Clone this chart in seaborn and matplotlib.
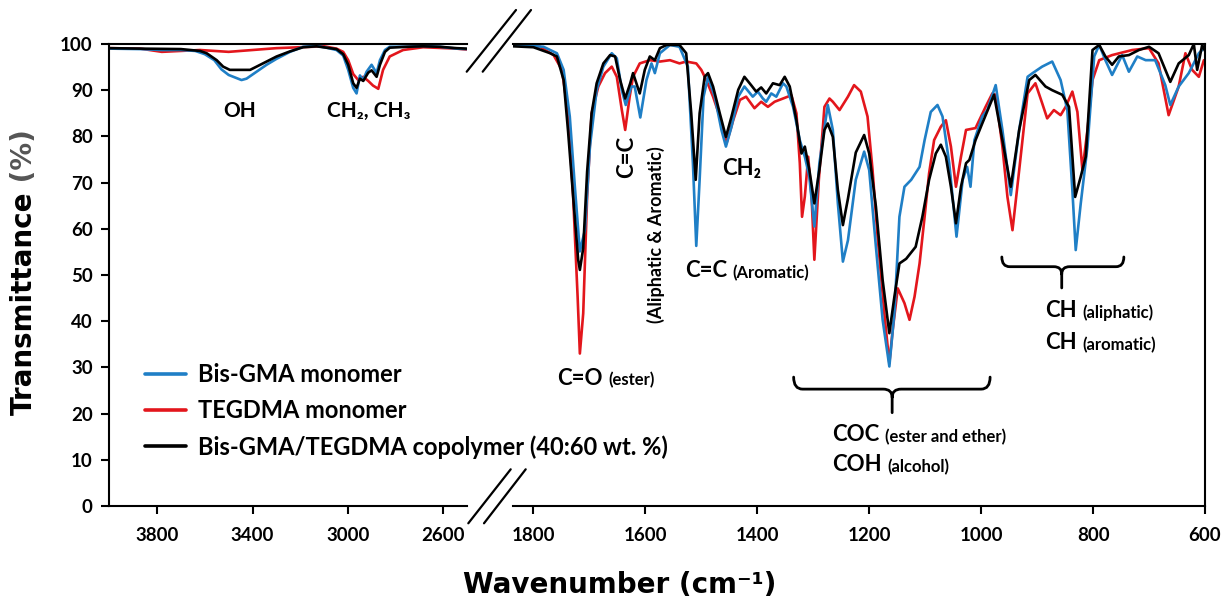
import numpy as np
import pandas as pd
import matplotlib
matplotlib.use("Agg")
import matplotlib.pyplot as plt
import seaborn as sns
from matplotlib.lines import Line2D
from matplotlib.path import Path
from matplotlib.patches import PathPatch
from matplotlib.text import Annotation

# ---------------- data ----------------
series_names = ["Bis-GMA monomer", "TEGDMA monomer",
                "Bis-GMA/TEGDMA copolymer (40:60 wt. %)"]
series_colors = ["#1f7fc6", "#e3161c", "#000000"]

left_ticks = [3800, 3400, 3000, 2600]
right_ticks = [1800, 1600, 1400, 1200, 1000, 800, 600]
y_ticks = [0, 10, 20, 30, 40, 50, 60, 70, 80, 90, 100]

# high-wavenumber panel (4000-2500 cm-1)
bis_hi_wn = [4000, 3870, 3780, 3700, 3640, 3600, 3560, 3530, 3500, 3446, 3425, 3383,
             3341, 3299, 3243, 3188, 3132, 3090, 3048, 3020, 2999, 2978, 2964, 2950,
             2936, 2922, 2901, 2880, 2866, 2845, 2825, 2755, 2685, 2615, 2545, 2503]
bis_hi_t = [99.0, 98.9, 98.7, 98.7, 98.5, 97.8, 96.5, 94.5, 93.3, 92.2, 92.5, 94.0,
            95.5, 96.8, 98.3, 99.4, 99.6, 99.2, 98.7, 97.5, 94.4, 90.5, 89.3, 93.2,
            92.2, 94.0, 95.5, 93.7, 96.5, 98.7, 99.4, 99.4, 99.6, 99.4, 99.0, 98.9]

teg_hi_wn = [4000, 3870, 3780, 3700, 3620, 3500, 3400, 3300, 3200, 3100, 3048, 3020,
             2999, 2978, 2957, 2936, 2915, 2895, 2873, 2853, 2825, 2769, 2685, 2545, 2503]
teg_hi_t = [99.1, 99.0, 98.3, 98.5, 98.7, 98.3, 98.7, 99.1, 99.3, 99.5, 99.0, 98.3,
            96.5, 93.5, 92.2, 92.9, 92.0, 91.0, 90.3, 94.4, 97.3, 98.7, 99.3, 99.0, 98.8]

cop_hi_wn = [4000, 3870, 3700, 3620, 3592, 3550, 3523, 3495, 3446, 3410, 3383, 3341,
             3299, 3243, 3188, 3132, 3048, 3020, 2999, 2978, 2964, 2950, 2936, 2915,
             2901, 2880, 2866, 2845, 2825, 2755, 2685, 2615, 2545, 2503]
cop_hi_t = [99.1, 99.0, 98.9, 98.5, 98.0, 96.5, 95.1, 94.4, 94.4, 94.4, 95.1, 96.2,
            97.3, 98.4, 99.3, 99.5, 98.9, 97.8, 95.5, 91.5, 90.5, 92.5, 92.0, 93.8,
            94.3, 92.9, 95.5, 98.3, 99.2, 99.4, 99.5, 99.4, 99.1, 99.0]

# fingerprint panel (1837-600 cm-1)
bis_lo_wn = [1836, 1782, 1758, 1746, 1735, 1726, 1717, 1708, 1699, 1687, 1675, 1660,
             1651, 1642, 1635, 1625, 1619, 1609, 1598, 1589, 1583, 1574, 1556, 1539,
             1524, 1515, 1509, 1503, 1496, 1488, 1476, 1464, 1456, 1446, 1434, 1423,
             1408, 1399, 1390, 1384, 1375, 1366, 1354, 1348, 1336, 1324, 1315, 1307,
             1298, 1289, 1274, 1265, 1256, 1247, 1238, 1224, 1209, 1200, 1188, 1176,
             1164, 1155, 1146, 1137, 1125, 1110, 1101, 1090, 1078, 1069, 1057, 1044,
             1033, 1025, 1019, 1012, 998, 989, 974, 962, 947, 932, 917, 908, 891, 873,
             858, 846, 837, 831, 822, 810, 798, 789, 778, 766, 748, 736, 721, 706, 689,
             671, 662, 647, 629, 611, 602]
bis_lo_t = [99.8, 99.4, 98.0, 94.4, 84.3, 69.2, 55.1, 59.7, 77.8, 90.0, 95.1, 98.0,
            96.9, 90.0, 86.8, 90.8, 90.8, 84.1, 92.2, 95.8, 93.7, 98.0, 99.8, 99.4,
            95.1, 74.2, 56.3, 70.6, 88.6, 92.9, 88.6, 81.4, 77.8, 82.1, 88.6, 90.8,
            88.6, 89.7, 88.2, 87.5, 89.3, 88.6, 91.5, 90.8, 86.4, 79.2, 75.6, 71.3,
            60.5, 74.2, 86.8, 81.4, 65.5, 52.9, 57.5, 70.6, 76.7, 72.7, 56.1, 40.3,
            30.2, 41.8, 62.6, 69.1, 70.6, 73.4, 79.2, 85.3, 86.8, 84.3, 74.2, 58.3,
            70.6, 73.4, 69.1, 79.2, 84.3, 85.7, 91.1, 81.4, 67.3, 81.4, 92.9, 93.7, 95.1, 96.2,
            92.2, 85.7, 68.4, 55.4, 65.5, 77.8, 97.3, 99.8, 96.5, 93.3, 97.6, 94.0, 97.3, 96.5, 96.5,
            91.1, 86.8, 90.8, 93.7, 98.0, 99.1]

teg_lo_wn = [1836, 1788, 1764, 1749, 1738, 1729, 1721, 1717, 1711, 1704, 1696, 1684,
             1672, 1660, 1651, 1642, 1636, 1628, 1622, 1610, 1592, 1574, 1556, 1539,
             1527, 1509, 1500, 1491, 1479, 1467, 1455, 1443, 1431, 1420, 1405, 1393,
             1381, 1369, 1354, 1339, 1330, 1324, 1320, 1315, 1309, 1303, 1298, 1290,
             1280, 1271, 1265, 1253, 1238, 1227, 1215, 1203, 1194, 1185, 1173, 1164,
             1158, 1149, 1137, 1128, 1119, 1110, 1101, 1093, 1084, 1072, 1063, 1054,
             1045, 1036, 1027, 1010, 992, 980, 974, 962, 953, 944, 932, 917, 903, 891,
             882, 870, 858, 849, 837, 828, 819, 810, 801, 789, 766, 730, 700, 683, 665,
             647, 635, 623, 611, 602]
teg_lo_t = [99.8, 99.4, 97.6, 94.4, 85.0, 67.0, 45.3, 33.0, 41.7, 67.0, 85.0, 90.8,
            93.7, 95.1, 92.9, 85.7, 81.4, 88.6, 92.9, 95.8, 96.5, 96.2, 96.5, 95.8,
            96.2, 95.8, 94.4, 92.2, 88.6, 84.3, 78.5, 83.5, 87.9, 88.6, 86.1, 87.5,
            86.4, 87.5, 88.2, 88.9, 85.0, 74.2, 62.6, 67.0, 75.6, 67.0, 53.3, 70.6,
            86.4, 88.2, 87.5, 85.7, 88.6, 91.1, 89.7, 84.3, 72.7, 58.3, 41.7, 30.9,
            38.1, 47.1, 43.9, 40.3, 45.3, 52.5, 62.6, 72.0, 79.2, 82.1, 83.5, 77.8,
            69.1, 75.6, 81.4, 81.8, 86.4, 89.3, 89.0, 77.8, 66.9, 59.7, 72.7, 89.3, 91.5, 87.2,
            83.9, 85.7, 84.6, 86.4, 89.7, 85.3, 72.7, 81.4, 92.2, 96.5, 97.6, 98.7, 99.1, 95.8, 84.6,
            90.8, 98.0, 94.4, 92.9, 96.5]

cop_lo_wn = [1836, 1800, 1770, 1758, 1746, 1738, 1729, 1720, 1717, 1711, 1704, 1696,
             1687, 1675, 1663, 1654, 1645, 1636, 1627, 1622, 1610, 1601, 1592, 1583,
             1574, 1562, 1539, 1527, 1518, 1510, 1503, 1494, 1488, 1479, 1467, 1456,
             1446, 1434, 1423, 1411, 1402, 1393, 1384, 1372, 1360, 1351, 1342, 1330,
             1321, 1315, 1307, 1298, 1289, 1280, 1274, 1265, 1256, 1247, 1238, 1224,
             1209, 1200, 1188, 1176, 1164, 1155, 1146, 1134, 1117, 1105, 1093, 1081,
             1072, 1063, 1054, 1045, 1036, 1027, 1021, 1010, 998, 977, 962, 947, 932,
             914, 903, 885, 873, 855, 843, 832, 822, 813, 801, 789, 778, 766, 754, 736,
             718, 700, 683, 662, 647, 629, 620, 614, 605, 600]
cop_lo_t = [99.5, 99.3, 98.0, 97.3, 92.2, 81.0, 67.0, 53.3, 51.1, 55.8, 72.4, 85.0,
            91.5, 95.8, 97.6, 97.3, 92.2, 88.2, 91.5, 93.7, 89.3, 94.4, 97.3, 96.5,
            99.1, 99.8, 99.8, 98.0, 85.0, 70.6, 85.0, 92.9, 93.7, 90.8, 85.0, 79.9,
            84.3, 90.1, 92.9, 91.1, 89.7, 90.6, 89.3, 91.5, 91.1, 92.9, 90.8, 83.5,
            76.3, 77.8, 72.8, 65.5, 72.8, 81.4, 82.8, 79.9, 68.4, 60.8, 66.5, 76.5,
            80.3, 76.3, 64.8, 48.9, 37.4, 45.3, 52.5, 53.5, 56.1, 62.6, 70.6, 76.3,
            78.2, 75.6, 69.1, 61.2, 69.1, 74.2, 74.9, 79.2, 82.8, 89.0, 79.2, 69.1, 81.4,
            92.2, 93.3, 90.8, 90.0, 89.0, 86.4, 66.9, 71.3, 75.6, 98.7, 99.8, 97.3, 95.5, 97.3, 97.6,
            98.7, 99.4, 98.0, 91.8, 95.8, 97.6, 100.0, 94.4, 99.8, 98.5]

# ---------------- style ----------------
sns.set_style("ticks")
plt.rcParams["font.family"] = ["Lato", "DejaVu Sans"]
plt.rcParams["font.weight"] = "bold"
plt.rcParams["axes.linewidth"] = 1.5
for key in ("text.color", "axes.labelcolor", "xtick.color", "ytick.color",
            "axes.edgecolor"):
    plt.rcParams[key] = "black"

W, H = 1221, 603
fig = plt.figure(figsize=(W / 100, H / 100), dpi=100)
fig.patch.set_facecolor("white")

y0, y1 = 44, 506
axL = fig.add_axes([109.3 / W, 1 - y1 / H, (467.3 - 109.3) / W, (y1 - y0) / H])
axR = fig.add_axes([512.7 / W, 1 - y1 / H, (1205 - 512.7) / W, (y1 - y0) / H])

palette = dict(zip(series_names, series_colors))
draw_order = [series_names[1], series_names[0], series_names[2]]


def long_df(parts):
    return pd.concat([pd.DataFrame({"wn": wn, "T": t, "series": name})
                      for name, wn, t in parts], ignore_index=True)


dfL = long_df([(series_names[0], bis_hi_wn, bis_hi_t),
               (series_names[1], teg_hi_wn, teg_hi_t),
               (series_names[2], cop_hi_wn, cop_hi_t)])
dfR = long_df([(series_names[0], bis_lo_wn, bis_lo_t),
               (series_names[1], teg_lo_wn, teg_lo_t),
               (series_names[2], cop_lo_wn, cop_lo_t)])

for ax, df in ((axL, dfL), (axR, dfR)):
    sns.lineplot(data=df, x="wn", y="T", hue="series", hue_order=draw_order,
                 palette=palette, estimator=None, linewidth=1.9, ax=ax, legend=False)
    ax.set_xlabel("")
    ax.set_ylabel("")
    ax.set_ylim(0, 100)
    for s in ax.spines.values():
        s.set_linewidth(1.5)
        s.set_color("black")

axL.set_xlim(4000, 2500)
axR.set_xlim(1837, 600)
axL.set_xticks(left_ticks)
axR.set_xticks(right_ticks)
axL.set_yticks(y_ticks)
axL.spines["right"].set_visible(False)
axR.spines["left"].set_visible(False)
axR.tick_params(axis="y", left=False, labelleft=False)
for ax in (axL, axR):
    ax.tick_params(axis="x", direction="out", length=6, width=1.5, pad=9,
                   labelsize=13.5, colors="black")
axL.tick_params(axis="y", direction="out", length=6, width=1.5, pad=6,
                labelsize=13.5, colors="black")

# axis break marks
for (xa, ya, xb, yb) in [(466.7, 71.7, 516, 10), (482.7, 71.7, 531, 10),
                         (468.3, 523.3, 510.7, 469.3), (484, 523.3, 525.7, 469.3)]:
    fig.add_artist(Line2D([xa / W, xb / W], [1 - ya / H, 1 - yb / H],
                          transform=fig.transFigure, color="black", lw=1.6))

# axis titles
ty = fig.text(24 / W, 1 - 415 / H, "Transmittance", rotation=90, ha="center", va="bottom",
              fontsize=20, fontweight="bold", family="DejaVu Sans", color="black")
fig.add_artist(Annotation(
    " (%)", xy=(0.5, 1), xycoords=ty, ha="center", va="bottom", rotation=90,
    fontsize=20, fontweight="bold", family="DejaVu Sans", color="#555555",
    annotation_clip=False))
fig.text(620 / W, 1 - 585 / H, "Wavenumber (cm\u207b\u00b9)", ha="center", va="center",
         fontsize=20, fontweight="bold", family="DejaVu Sans", color="black")

# legend
handles = [Line2D([], [], color=c, lw=2.6) for c in series_colors]
fig.legend(handles, series_names, loc="upper left",
           bbox_to_anchor=(145 / W, 1 - 363 / H), bbox_transform=fig.transFigure,
           frameon=False, borderpad=0, borderaxespad=0, handlelength=1.75,
           handletextpad=0.5, labelspacing=0.55,
           prop={"family": ["Lato", "DejaVu Sans"], "weight": "bold", "size": 17})

# annotations
big, small = 16, 12
ann = dict(fontweight="bold", color="black")
axL.text(3453, 85.5, "OH", ha="center", va="center", fontsize=15, **ann)
axL.text(2913, 85.5, "CH\u2082, CH\u2083", ha="center", va="center", fontsize=15, **ann)


def pair(ax, x, y, a, b):
    t1 = ax.text(x, y, a, ha="left", va="center", fontsize=big, **ann)
    ax.annotate(b, xy=(1, 0), xycoords=t1, xytext=(4, 0), textcoords="offset points",
                ha="left", va="bottom", fontsize=small, **ann)


pair(axR, 1758, 27.7, "C=O", "(ester)")
pair(axR, 1529, 51.0, "C=C", "(Aromatic)")
pair(axR, 1266, 15.4, "COC", "(ester and ether)")
pair(axR, 1266, 8.9, "COH", "(alcohol)")
pair(axR, 885, 42.4, "CH", "(aliphatic)")
pair(axR, 885, 35.3, "CH", "(aromatic)")
axR.text(1462, 73.0, "CH\u2082", ha="left", va="center", fontsize=big, **ann)
axR.text(1633, 75.5, "C=C", ha="center", va="center", rotation=90, fontsize=big, **ann)
axR.text(1581, 58.7, "(Aliphatic & Aromatic)", ha="center", va="center", rotation=90,
         fontsize=13, **ann)


def brace(ax, xl, xr, xm, yt, yb, ytip, r):
    s = 1 if xr > xl else -1
    dy = (yb - ytip) * 0.35
    verts = [(xl, yt), (xl, yb), (xl + s * r, yb), (xm - s * r, yb), (xm, yb), (xm, yb - dy),
             (xm, ytip),
             (xm, yb - dy), (xm, yb), (xm + s * r, yb), (xr - s * r, yb), (xr, yb), (xr, yt)]
    codes = [Path.MOVETO, Path.CURVE3, Path.CURVE3, Path.LINETO, Path.CURVE3, Path.CURVE3,
             Path.LINETO,
             Path.MOVETO, Path.CURVE3, Path.CURVE3, Path.LINETO, Path.CURVE3, Path.CURVE3]
    ax.add_patch(PathPatch(Path(verts, codes), fill=False, lw=2.0, color="black",
                           clip_on=False, capstyle="round", joinstyle="round"))


brace(axR, 1335, 984, 1159, 27.9, 25.3, 20.2, 16)
brace(axR, 963, 745, 856, 53.9, 51.8, 47.2, 14)

fig.savefig("out.png", dpi=100, facecolor="white")
